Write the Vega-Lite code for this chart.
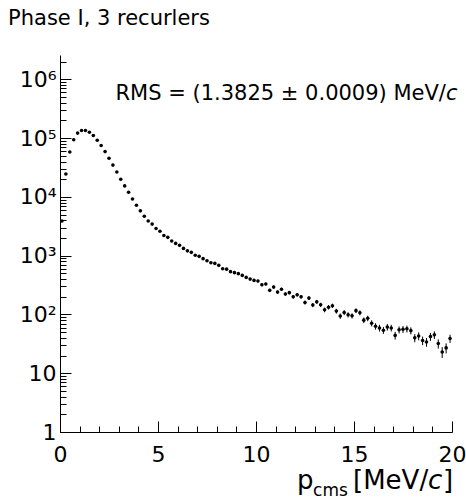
{
  "$schema": "https://vega.github.io/schema/vega-lite/v6.json",
  "width": 392,
  "height": 377,
  "autosize": {"type": "none"},
  "padding": {"left": 60, "top": 55, "right": 14, "bottom": 67},
  "background": "white",
  "config": {
    "view": {"stroke": null},
    "font": "DejaVu Sans",
    "text": {"font": "DejaVu Sans", "baseline": "alphabetic", "color": "black"},
    "axis": {"domainColor": "black", "tickColor": "black", "labelColor": "black", "grid": false, "labelFont": "DejaVu Sans", "labelOverlap": false}
  },
  "resolve": {"axis": {"x": "independent", "y": "independent"}},
  "datasets": {
    "hist": [
      {"x": 0.1, "n": 3900, "err": 62},
      {"x": 0.3, "n": 24600, "err": 157},
      {"x": 0.5, "n": 58000, "err": 241},
      {"x": 0.7, "n": 94000, "err": 307},
      {"x": 0.9, "n": 122000, "err": 349},
      {"x": 1.1, "n": 135000, "err": 367},
      {"x": 1.3, "n": 135000, "err": 367},
      {"x": 1.5, "n": 126000, "err": 355},
      {"x": 1.7, "n": 111000, "err": 333},
      {"x": 1.9, "n": 92000, "err": 303},
      {"x": 2.1, "n": 75000, "err": 274},
      {"x": 2.3, "n": 59000, "err": 243},
      {"x": 2.5, "n": 45500, "err": 213},
      {"x": 2.7, "n": 34800, "err": 187},
      {"x": 2.9, "n": 26500, "err": 163},
      {"x": 3.1, "n": 20000, "err": 141},
      {"x": 3.3, "n": 15400, "err": 124},
      {"x": 3.5, "n": 12000, "err": 110},
      {"x": 3.7, "n": 9200, "err": 96},
      {"x": 3.9, "n": 7200, "err": 85},
      {"x": 4.1, "n": 5800, "err": 76},
      {"x": 4.3, "n": 4700, "err": 69},
      {"x": 4.5, "n": 3900, "err": 62},
      {"x": 4.7, "n": 3450, "err": 59},
      {"x": 4.9, "n": 2900, "err": 54},
      {"x": 5.1, "n": 2600, "err": 51},
      {"x": 5.3, "n": 2200, "err": 47},
      {"x": 5.5, "n": 2050, "err": 45},
      {"x": 5.7, "n": 1780, "err": 42},
      {"x": 5.9, "n": 1620, "err": 40},
      {"x": 6.1, "n": 1500, "err": 39},
      {"x": 6.3, "n": 1330, "err": 36},
      {"x": 6.5, "n": 1210, "err": 35},
      {"x": 6.7, "n": 1140, "err": 34},
      {"x": 6.9, "n": 1020, "err": 32},
      {"x": 7.1, "n": 975, "err": 31},
      {"x": 7.3, "n": 890, "err": 30},
      {"x": 7.5, "n": 820, "err": 29},
      {"x": 7.7, "n": 760, "err": 28},
      {"x": 7.9, "n": 740, "err": 27},
      {"x": 8.1, "n": 685, "err": 26},
      {"x": 8.3, "n": 600, "err": 24},
      {"x": 8.5, "n": 590, "err": 24},
      {"x": 8.7, "n": 535, "err": 23},
      {"x": 8.9, "n": 515, "err": 23},
      {"x": 9.1, "n": 495, "err": 22},
      {"x": 9.3, "n": 462, "err": 21},
      {"x": 9.5, "n": 427, "err": 21},
      {"x": 9.7, "n": 400, "err": 20},
      {"x": 9.9, "n": 380, "err": 19},
      {"x": 10.1, "n": 370, "err": 19},
      {"x": 10.3, "n": 320, "err": 18},
      {"x": 10.5, "n": 330, "err": 18},
      {"x": 10.7, "n": 257, "err": 16},
      {"x": 10.9, "n": 292, "err": 17},
      {"x": 11.1, "n": 240, "err": 15.5},
      {"x": 11.3, "n": 268, "err": 16.4},
      {"x": 11.5, "n": 223, "err": 14.9},
      {"x": 11.7, "n": 235, "err": 15.3},
      {"x": 11.9, "n": 200, "err": 14.1},
      {"x": 12.1, "n": 216, "err": 14.7},
      {"x": 12.3, "n": 200, "err": 14.1},
      {"x": 12.5, "n": 160, "err": 12.6},
      {"x": 12.7, "n": 190, "err": 13.8},
      {"x": 12.9, "n": 145, "err": 12},
      {"x": 13.1, "n": 164, "err": 12.8},
      {"x": 13.3, "n": 146, "err": 12.1},
      {"x": 13.5, "n": 120, "err": 11},
      {"x": 13.7, "n": 133, "err": 11.5},
      {"x": 13.9, "n": 141, "err": 11.9},
      {"x": 14.1, "n": 114, "err": 10.7},
      {"x": 14.3, "n": 94, "err": 9.7},
      {"x": 14.5, "n": 108, "err": 10.4},
      {"x": 14.7, "n": 99, "err": 9.9},
      {"x": 14.9, "n": 95, "err": 9.7},
      {"x": 15.1, "n": 116, "err": 10.8},
      {"x": 15.3, "n": 107, "err": 10.3},
      {"x": 15.5, "n": 80, "err": 8.9},
      {"x": 15.7, "n": 86, "err": 9.3},
      {"x": 15.9, "n": 71, "err": 8.4},
      {"x": 16.1, "n": 63, "err": 7.9},
      {"x": 16.3, "n": 59, "err": 7.7},
      {"x": 16.5, "n": 54, "err": 7.3},
      {"x": 16.7, "n": 61, "err": 7.8},
      {"x": 16.9, "n": 59, "err": 7.7},
      {"x": 17.1, "n": 44, "err": 6.6},
      {"x": 17.3, "n": 55, "err": 7.4},
      {"x": 17.5, "n": 56, "err": 7.5},
      {"x": 17.7, "n": 57, "err": 7.5},
      {"x": 17.9, "n": 53, "err": 7.3},
      {"x": 18.1, "n": 40, "err": 6.3},
      {"x": 18.3, "n": 43, "err": 6.6},
      {"x": 18.5, "n": 36, "err": 6},
      {"x": 18.7, "n": 34, "err": 5.8},
      {"x": 18.9, "n": 42, "err": 6.5},
      {"x": 19.1, "n": 45, "err": 6.7},
      {"x": 19.3, "n": 32, "err": 5.7},
      {"x": 19.5, "n": 23, "err": 4.8},
      {"x": 19.7, "n": 27, "err": 5.2},
      {"x": 19.9, "n": 39, "err": 6.2}
    ],
    "labels": [
      {"label": "Phase I, 3 recurlers", "part": "title"},
      {"label": "RMS = (1.3825 ± 0.0009) MeV/", "part": "rms"},
      {"label": "c", "part": "rmsc"},
      {"label": "p", "part": "p"},
      {"label": "cms", "part": "cms"},
      {"label": "[MeV/", "part": "unit"},
      {"label": "c", "part": "unitc"},
      {"label": "]", "part": "bracket"}
    ]
  },
  "layer": [
    {
      "data": {"name": "hist"},
      "mark": {"type": "errorbar", "color": "black", "thickness": 1},
      "encoding": {
        "x": {
          "field": "x",
          "type": "quantitative",
          "scale": {"domain": [0, 20], "nice": false, "zero": false},
          "axis": {
            "title": null,
            "values": [0,1,2,3,4,5,6,7,8,9,10,11,12,13,14,15,16,17,18,19,20],
            "labelExpr": "datum.value % 5 == 0 ? datum.label : ''",
            "labelFontSize": 22,
            "labelPadding": 23,
            "labelFlush": false,
            "tickSize": {"condition": {"test": "datum.value % 5 == 0", "value": -11}, "value": -6}
          }
        },
        "y": {
          "field": "n",
          "type": "quantitative",
          "scale": {"type": "log", "domain": [1, 2600000], "nice": false},
          "axis": {
            "title": null,
            "values": [1,2,3,4,5,6,7,8,9,10,20,30,40,50,60,70,80,90,100,200,300,400,500,600,700,800,900,1000,2000,3000,4000,5000,6000,7000,8000,9000,10000,20000,30000,40000,50000,60000,70000,80000,90000,100000,200000,300000,400000,500000,600000,700000,800000,900000,1000000,2000000],
            "labelExpr": "datum.value == 1 ? '1' : datum.value == 10 ? '10' : datum.value == 100 ? '10²' : datum.value == 1000 ? '10³' : datum.value == 10000 ? '10⁴' : datum.value == 100000 ? '10⁵' : datum.value == 1000000 ? '10⁶' : ''",
            "labelFontSize": 22,
            "labelPadding": 15,
            "tickSize": {"condition": {"test": "datum.value == 1 || datum.value == 10 || datum.value == 100 || datum.value == 1000 || datum.value == 10000 || datum.value == 100000 || datum.value == 1000000", "value": -11}, "value": -6}
          }
        },
        "yError": {"field": "err"}
      }
    },
    {
      "data": {"name": "hist"},
      "mark": {"type": "circle", "color": "black", "size": 13, "opacity": 1},
      "encoding": {
        "x": {"field": "x", "type": "quantitative", "axis": null},
        "y": {"field": "n", "type": "quantitative", "axis": null}
      }
    },
    {
      "data": {"name": "labels"},
      "transform": [{"filter": "datum.part == 'title'"}],
      "mark": {"type": "text", "fontSize": 21, "align": "left", "clip": false},
      "encoding": {
        "x": {"datum": -2.65, "axis": null},
        "y": {"datum": 8300000, "axis": null},
        "text": {"field": "label"}
      }
    },
    {
      "data": {"name": "labels"},
      "transform": [{"filter": "datum.part == 'rms'"}],
      "mark": {"type": "text", "fontSize": 21, "align": "right"},
      "encoding": {
        "x": {"datum": 19.69, "axis": null},
        "y": {"datum": 443000, "axis": null},
        "text": {"field": "label"}
      }
    },
    {
      "data": {"name": "labels"},
      "transform": [{"filter": "datum.part == 'rmsc'"}],
      "mark": {"type": "text", "fontSize": 21, "fontStyle": "italic", "align": "left"},
      "encoding": {
        "x": {"datum": 19.69, "axis": null},
        "y": {"datum": 443000, "axis": null},
        "text": {"field": "label"}
      }
    },
    {
      "data": {"name": "labels"},
      "transform": [{"filter": "datum.part == 'p'"}],
      "mark": {"type": "text", "fontSize": 26, "align": "left"},
      "encoding": {
        "x": {"datum": 12.09, "axis": null},
        "y": {"datum": 0.107, "axis": null},
        "text": {"field": "label"}
      }
    },
    {
      "data": {"name": "labels"},
      "transform": [{"filter": "datum.part == 'cms'"}],
      "mark": {"type": "text", "fontSize": 17, "align": "left"},
      "encoding": {
        "x": {"datum": 12.91, "axis": null},
        "y": {"datum": 0.083, "axis": null},
        "text": {"field": "label"}
      }
    },
    {
      "data": {"name": "labels"},
      "transform": [{"filter": "datum.part == 'unit'"}],
      "mark": {"type": "text", "fontSize": 26, "align": "left"},
      "encoding": {
        "x": {"datum": 14.95, "axis": null},
        "y": {"datum": 0.107, "axis": null},
        "text": {"field": "label"}
      }
    },
    {
      "data": {"name": "labels"},
      "transform": [{"filter": "datum.part == 'unitc'"}],
      "mark": {"type": "text", "fontSize": 26, "fontStyle": "italic", "align": "left"},
      "encoding": {
        "x": {"datum": 18.78, "axis": null},
        "y": {"datum": 0.107, "axis": null},
        "text": {"field": "label"}
      }
    },
    {
      "data": {"name": "labels"},
      "transform": [{"filter": "datum.part == 'bracket'"}],
      "mark": {"type": "text", "fontSize": 26, "align": "left"},
      "encoding": {
        "x": {"datum": 19.54, "axis": null},
        "y": {"datum": 0.107, "axis": null},
        "text": {"field": "label"}
      }
    }
  ]
}
